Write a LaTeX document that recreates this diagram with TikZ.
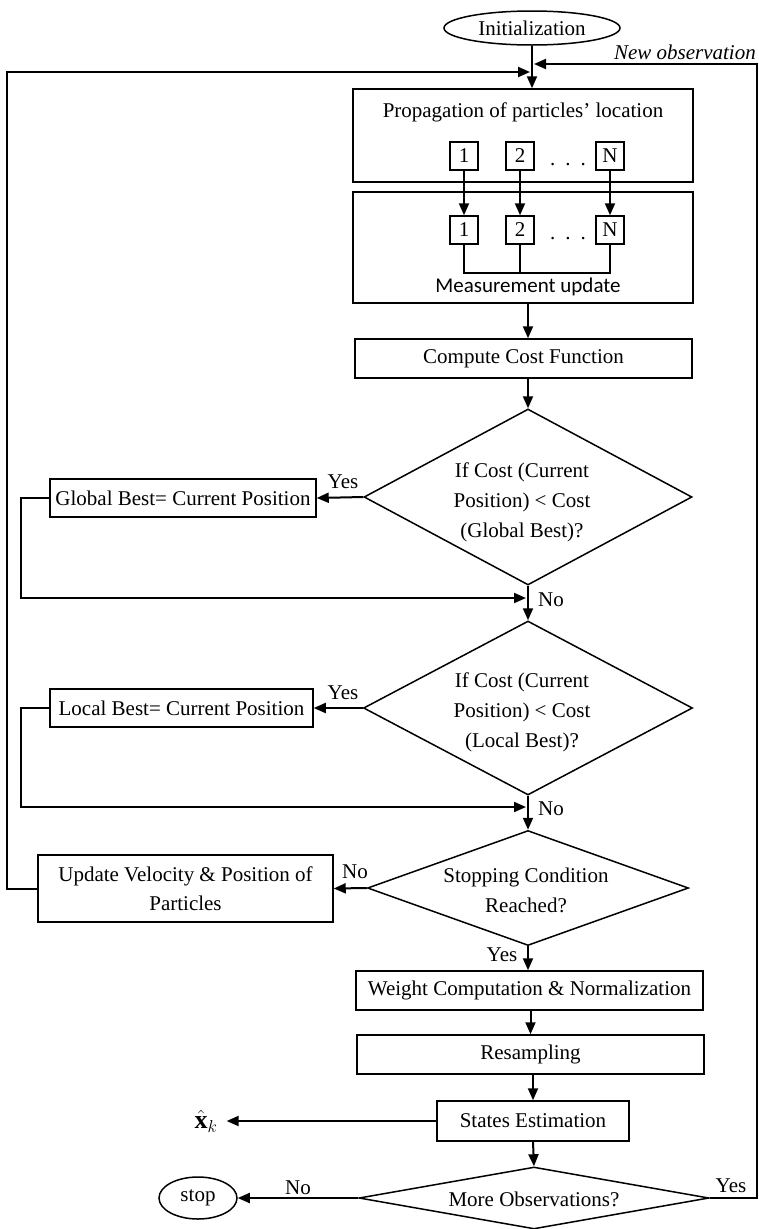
\documentclass[tikz,border=0pt]{standalone}
\usepackage{fontspec}
\setmainfont{Liberation Serif}
\newfontfamily\mufont{Carlito}
\usetikzlibrary{shapes.geometric,arrows.meta}
\begin{document}
\begin{tikzpicture}[x=1pt,y=-1pt,
  every node/.style={font=\fontsize{21}{29}\selectfont},
  box/.style={draw, line width=1.5pt, inner sep=0pt},
  sq/.style={draw, line width=1.5pt, inner sep=0pt, minimum size=28pt},
  dec/.style={draw, diamond, line width=1.5pt, inner sep=0pt},
  dectext/.style={inner sep=0pt, align=center, font=\fontsize{21}{30}\selectfont},
  term/.style={draw, ellipse, line width=1.5pt, inner sep=0pt},
  flow/.style={line width=2pt, -{Triangle[length=12pt,width=10pt]}},
  link/.style={line width=2pt},
  thinlink/.style={line width=1.5pt},
  lbl/.style={inner sep=0pt}
]
\useasboundingbox (0,0) rectangle (758,1229);

% start / stop
\node[term, minimum width=176pt, minimum height=34pt] (init) at (532,28) {Initialization};
\node[term, minimum width=78pt, minimum height=42pt] (stop) at (198,1198) {stop};

% particle propagation and measurement update
\node[box, minimum width=340pt, minimum height=93pt] (prop) at (523,135.5) {};
\node[lbl] (proptext) at (523,112) {Propagation of particles’ location};
\node[sq] (p1) at (464,156) {1};
\node[sq] (p2) at (520,156) {2};
\node[sq] (pN) at (610,156) {N};
\node[lbl, anchor=base] (pdots) at (568,165) {.\hspace{10pt}.\hspace{10pt}.};

\node[box, minimum width=340pt, minimum height=111pt] (meas) at (523,247.5) {};
\node[sq] (m1) at (464,230) {1};
\node[sq] (m2) at (520,230) {2};
\node[sq] (mN) at (610,230) {N};
\node[lbl, anchor=base] (mdots) at (568,239) {.\hspace{10pt}.\hspace{10pt}.};
\coordinate (bj) at (520,273);
\node[lbl, font=\mufont\fontsize{21}{25}\selectfont] (mutext) at (528,287) {Measurement update};

% main column
\node[box, minimum width=337pt, minimum height=39pt] (cost) at (523.5,358.5) {Compute Cost Function};
\node[dec, minimum width=328pt, minimum height=176pt] (d1) at (528,497) {};
\node[dectext] (d1t) at (522,502) {If Cost (Current\\Position) < Cost\\(Global Best)?};
\node[dec, minimum width=329pt, minimum height=174pt] (d2) at (528,708) {};
\node[dectext] (d2t) at (522,712) {If Cost (Current\\Position) < Cost\\(Local Best)?};
\node[dec, minimum width=321pt, minimum height=115pt] (d3) at (528,888) {};
\node[dectext] (d3t) at (526,890) {Stopping Condition\\Reached?};
\node[box, minimum width=347pt, minimum height=39pt] (weight) at (529.5,990.5) {Weight Computation \& Normalization};
\node[box, minimum width=347pt, minimum height=39pt] (resamp) at (530.5,1054.5) {Resampling};
\node[box, minimum width=192pt, minimum height=40pt] (states) at (533,1121) {States Estimation};
\node[dec, minimum width=350pt, minimum height=62pt] (d4) at (534,1198) {};
\node[dectext] (d4t) at (534,1199) {More Observations?};

% side boxes
\node[box, minimum width=266pt, minimum height=38pt] (glob) at (183,498) {Global Best= Current Position};
\node[box, minimum width=263pt, minimum height=38pt] (loc) at (181.5,708) {Local Best= Current Position};
\node[box, minimum width=295pt, minimum height=67pt, align=center] (upd) at (185.5,888.5)
  {Update Velocity \& Position of\\Particles};
\node[lbl, font=\fontsize{26}{30}\selectfont] (xhat) at (206,1121) {$\hat{\mathbf{x}}_k$};

% branch labels
\node[lbl] (yes1) at (343,482) {Yes};
\node[lbl] (no1) at (551,600) {No};
\node[lbl] (yes2) at (343,693) {Yes};
\node[lbl] (no2) at (551,809) {No};
\node[lbl] (no3) at (355,872) {No};
\node[lbl] (yes3) at (502,955) {Yes};
\node[lbl] (no4) at (298,1188) {No};
\node[lbl] (yes4) at (731,1186) {Yes};
\node[lbl, anchor=base east, font=\itshape\fontsize{21}{25}\selectfont] (newobs) at (756,59) {New observation};

% loop corners
\coordinate (lc) at (7,72);
\coordinate (jl) at (530,72);
\coordinate (rc) at (757,64);
\coordinate (jr) at (534,64);
\coordinate (g1) at (21,598);
\coordinate (g2) at (526,598);
\coordinate (l1) at (21,807);
\coordinate (l2) at (526,807);

% connectors
\draw[flow] (init.south) -- (init.south |- prop.north);
\draw[flow] (upd.west) -| (lc) -- (jl);
\draw[flow] (d4.east) -| (rc) -- (jr);
\draw[flow] (p1.south) -- (m1.north);
\draw[flow] (p2.south) -- (m2.north);
\draw[flow] (pN.south) -- (mN.north);
\draw[thinlink] (m1.south) -- (m1.south |- bj) -- (mN.south |- bj) -- (mN.south);
\draw[thinlink] (m2.south) -- (m2.south |- bj);
\draw[flow] (meas.south -| d1.north) -- (cost.north -| d1.north);
\draw[flow] (cost.south -| d1.north) -- (d1.north);
\draw[flow] (d1.west) -- (glob.east);
\draw[flow] (glob.west) -| (g1) -- (g2);
\draw[flow] (d1.south) -- (d2.north);
\draw[flow] (d2.west) -- (loc.east);
\draw[flow] (loc.west) -| (l1) -- (l2);
\draw[flow] (d2.south) -- (d3.north);
\draw[flow] (d3.west) -- (upd.east);
\draw[flow] (d3.south) -- (weight.north -| d3.south);
\draw[flow] (weight.south -| resamp.north) -- (resamp.north);
\draw[flow] (resamp.south -| states.north) -- (states.north);
\draw[flow] (states.south) -- (d4.north);
\draw[flow] (states.west) -- ([xshift=9pt]xhat.east);
\draw[flow] (d4.west) -- (stop.east);
\end{tikzpicture}
\end{document}
